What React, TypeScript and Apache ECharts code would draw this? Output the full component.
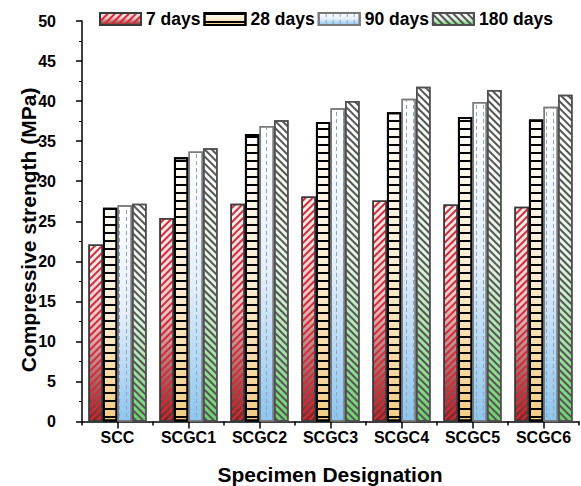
import React, { useEffect, useRef } from 'react';
import * as echarts from 'echarts';

const categories = ['SCC', 'SCGC1', 'SCGC2', 'SCGC3', 'SCGC4', 'SCGC5', 'SCGC6'];
const seriesNames = ['7 days', '28 days', '90 days', '180 days'];
const days7 = [22.1, 25.4, 27.2, 28.1, 27.6, 27.1, 26.8];
const days28 = [26.7, 33.0, 35.9, 37.4, 38.6, 38.0, 37.7];
const days90 = [27.0, 33.7, 36.9, 39.1, 40.3, 39.9, 39.3];
const days180 = [27.2, 34.1, 37.6, 40.0, 41.8, 41.4, 40.8];
const yMin = 0;
const yMax = 50;
const yInterval = 5;
const xTitle = 'Specimen Designation';
const yTitle = 'Compressive strength (MPa)';

const FONT = "'Liberation Sans', Arial, Helvetica, sans-serif";

const grad = (stops: [number, string][]) => ({
  type: 'linear',
  x: 0,
  y: 0,
  x2: 0,
  y2: 1,
  colorStops: stops.map(([offset, color]) => ({ offset, color })),
});

const styles = [
  {
    color: grad([[0, '#fcf0f0'], [0.45, '#eec4c4'], [1, '#7c2424']]),
    borderColor: '#3a3a3a',
    borderWidth: 1.5,
    decal: { symbol: 'rect', symbolSize: 1, color: '#d62a38', dashArrayX: [1, 0], dashArrayY: [2, 3], rotation: -Math.PI / 4 },
  },
  {
    color: grad([[0, '#fffdf9'], [0.5, '#fbecd2'], [1, '#f1cd82']]),
    borderColor: '#000000',
    borderWidth: 2,
    decal: { symbol: 'rect', symbolSize: 1, color: '#000000', dashArrayX: [1, 0], dashArrayY: [2, 6], rotation: 0 },
  },
  {
    color: grad([[0, '#ffffff'], [0.5, '#e4effa'], [1, '#8cc6f0']]),
    borderColor: '#7a7a7a',
    borderWidth: 1.5,
    decal: { symbol: 'rect', symbolSize: 1, color: '#8fa3bd', dashArrayX: [1, 6], dashArrayY: [4, 3], rotation: 0 },
  },
  {
    color: grad([[0, '#ffffff'], [0.5, '#e2f4e2'], [1, '#6dd26d']]),
    borderColor: '#505050',
    borderWidth: 1.5,
    decal: { symbol: 'rect', symbolSize: 1, color: '#555555', dashArrayX: [1, 0], dashArrayY: [2, 3], rotation: Math.PI / 4 },
  },
];

const seriesData = [days7, days28, days90, days180];

export default function App() {
  const ref = useRef<HTMLDivElement>(null);
  useEffect(() => {
    if (!ref.current) return;
    const chart = echarts.init(ref.current, undefined, { renderer: 'svg' });
    const textBase = { color: '#000', fontWeight: 'bold', fontFamily: FONT };
    chart.setOption({
      animation: false,
      backgroundColor: '#ffffff',
      legend: {
        left: 94,
        top: 5,
        icon: 'rect',
        itemWidth: 41,
        itemHeight: 12,
        itemGap: 3,
        data: seriesNames,
        textStyle: { ...textBase, fontSize: 17.5 },
      },
      grid: { left: 82, right: 2, top: 21, bottom: 64.5, containLabel: false },
      xAxis: [
        {
          type: 'category',
          data: categories,
          position: 'bottom',
          axisLine: { show: true, lineStyle: { color: '#000', width: 1.5 } },
          axisTick: { show: true, alignWithLabel: false, interval: 0, length: 4, lineStyle: { color: '#000', width: 1.5 } },
          axisLabel: { ...textBase, fontSize: 16, margin: 8, interval: 0 },
          splitLine: { show: false },
        },
        {
          type: 'category',
          data: categories,
          position: 'bottom',
          axisLine: { show: false },
          axisTick: { show: true, alignWithLabel: true, interval: 0, length: 7, lineStyle: { color: '#000', width: 1.5 } },
          axisLabel: { show: false },
          splitLine: { show: false },
        },
      ],
      yAxis: {
        type: 'value',
        min: yMin,
        max: yMax,
        interval: yInterval,
        axisLine: { show: true, lineStyle: { color: '#000', width: 1.5 } },
        axisTick: { show: true, length: 6, lineStyle: { color: '#000', width: 1.5 } },
        minorTick: { show: true, splitNumber: 2, length: 3, lineStyle: { color: '#000', width: 1 } },
        splitLine: { show: false },
        minorSplitLine: { show: false },
        axisLabel: { ...textBase, fontSize: 16, margin: 26 },
      },
      series: seriesNames.map((name, i) => ({
        name,
        type: 'bar',
        xAxisIndex: 0,
        data: seriesData[i],
        barGap: '0%',
        barCategoryGap: '18%',
        itemStyle: styles[i],
      })),
      graphic: [
        {
          type: 'text',
          x: 28,
          y: 230,
          rotation: Math.PI / 2,
          style: { text: yTitle, fill: '#000', font: `bold 21px ${FONT}`, textAlign: 'center', textVerticalAlign: 'middle' },
        },
        {
          type: 'text',
          x: 330,
          y: 474,
          style: { text: xTitle, fill: '#000', font: `bold 21px ${FONT}`, textAlign: 'center', textVerticalAlign: 'middle' },
        },
      ],
    });
    return () => chart.dispose();
  }, []);
  return <div ref={ref} style={{ position: 'fixed', left: 0, top: 0, width: 581, height: 486 }} />;
}
